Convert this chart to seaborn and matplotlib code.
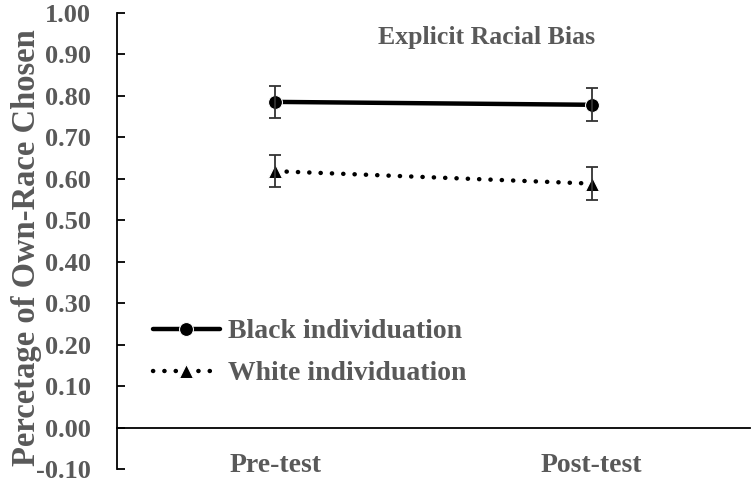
import matplotlib
matplotlib.use("Agg")
import matplotlib.pyplot as plt
import seaborn as sns
import pandas as pd
from matplotlib.ticker import FormatStrFormatter

# values
phases = ["Pre-test", "Post-test"]
black_mean = [0.785, 0.778]
black_err = [0.038, 0.040]
white_mean = [0.618, 0.588]
white_err = [0.038, 0.040]
yticks = [round(-0.1 + 0.1 * i, 2) for i in range(12)]

sns.set_style("white")
plt.rcParams["font.family"] = ["Liberation Serif", "DejaVu Serif"]
plt.rcParams["axes.unicode_minus"] = False
gray = "#595959"

fig = plt.figure(figsize=(7.55, 4.83), dpi=100)
ax = fig.add_axes([117 / 755, 14 / 483, 633 / 755, 456.3 / 483])

black = pd.DataFrame({"phase": phases, "value": black_mean})
white = pd.DataFrame({"phase": phases, "value": white_mean})

sns.lineplot(data=black, x="phase", y="value", ax=ax, color="black",
             marker="o", markersize=10, linewidth=3.2, label="Black individuation")
sns.lineplot(data=white, x="phase", y="value", ax=ax, color="black",
             marker="^", markersize=10, linewidth=3.2, linestyle=(0, (0.05, 2.5)),
             dash_capstyle="round", label="White individuation")

ax.errorbar(range(2), black_mean, yerr=black_err, fmt="none", ecolor="#333333",
            elinewidth=1.3, capsize=4.3, capthick=1.3)
ax.errorbar(range(2), white_mean, yerr=white_err, fmt="none", ecolor="#333333",
            elinewidth=1.3, capsize=4.3, capthick=1.3)

ax.set_xlim(-0.5, 1.5)
ax.set_ylim(-0.1, 1.0)
ax.set_yticks(yticks)
ax.yaxis.set_major_formatter(FormatStrFormatter("%.2f"))

ax.spines["top"].set_visible(False)
ax.spines["right"].set_visible(False)
ax.spines["bottom"].set_position(("data", 0))
for s in ("left", "bottom"):
    ax.spines[s].set_color("black")
    ax.spines[s].set_linewidth(1.3)

ax.set_xticks([-0.5, 0.5, 1.5])
ax.set_xticklabels([])
ax.tick_params(axis="x", which="major", direction="in", length=5, width=1.3, color="black")
ax.set_xticks([0, 1], phases, minor=True)
ax.tick_params(axis="x", which="minor", length=0, pad=18, labelsize=20, labelcolor=gray)
for t in ax.get_xticklabels(minor=True):
    t.set_fontweight("bold")

ax.tick_params(axis="y", direction="in", length=6, width=1.3, color="black",
               labelsize=19, labelcolor=gray, pad=19, left=True)
for t in ax.get_yticklabels():
    t.set_fontweight("bold")

ax.set_xlabel("")
ax.set_ylabel("Percetage of Own-Race Chosen", fontsize=23.5, fontweight="bold",
              color=gray)
ax.yaxis.set_label_coords(-0.118, 0.485)

ax.text(0.584, 0.945, "Explicit Racial Bias", transform=ax.transAxes, ha="center",
        va="center", fontsize=18.5, fontweight="bold", color=gray)

leg = ax.legend(loc="center left", bbox_to_anchor=(0.057, 0.255), frameon=False,
                borderpad=0, borderaxespad=0,
                handlelength=2.4, handletextpad=0.3, labelspacing=0.6,
                prop={"size": 20, "weight": "bold"}, labelcolor=gray)

fig.savefig("out.png", dpi=100)
